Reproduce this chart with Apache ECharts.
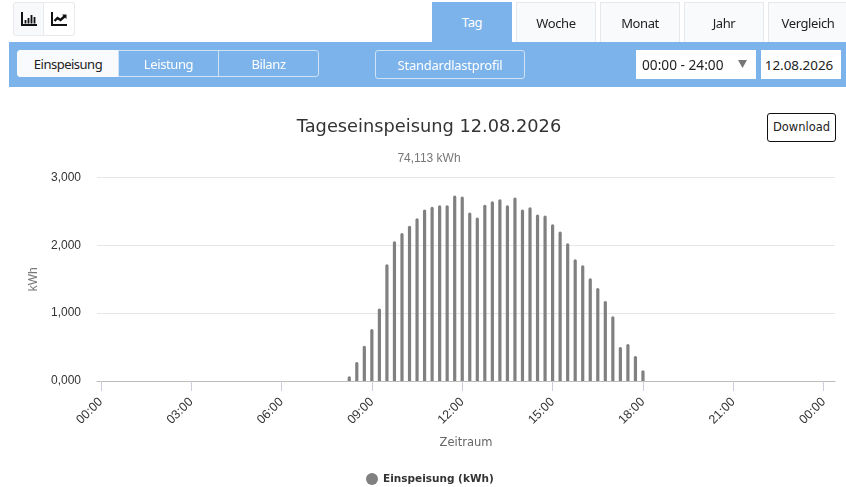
<!DOCTYPE html>
<html lang="de">
<head>
<meta charset="utf-8">
<title>Tageseinspeisung</title>
<script src="https://cdn.jsdelivr.net/npm/echarts@6/dist/echarts.min.js"></script>
<style>
html,body{margin:0;padding:0;width:846px;height:487px;overflow:hidden;background:#fff;font-family:"Noto Sans","Open Sans",sans-serif;color:#222}
#chart{position:absolute;left:0;top:0;width:846px;height:487px}
.ui{position:absolute;box-sizing:border-box;display:flex;align-items:center;justify-content:center;font-size:13px;letter-spacing:-.4px;z-index:2}
.tab{top:2px;width:80px;height:40px;background:#f9fafc;border:1px solid #e6e8ec;border-bottom:none}
.tab.on{background:#7cb3ea;color:#fff;border:none}
.seg{top:50px;height:27px;color:#fff;border:1px solid #cfe2f6}
</style>
</head>
<body>
<div id="chart"></div>

<div class="ui" style="left:13px;top:2px;width:31px;height:34px;background:#f8f9fb;border:1px solid #e8e9ec;border-radius:3px 0 0 3px">
<svg width="16" height="14" viewBox="0 0 16 14"><path d="M1 0V13H16" fill="none" stroke="#111" stroke-width="2"/><path d="M4.5 8v3.5M7.5 6v5.5M10.5 3v8.5M13.5 5v6.5" stroke="#111" stroke-width="1.8"/></svg></div>
<div class="ui" style="left:44px;top:2px;width:31px;height:34px;background:#fff;border:1px solid #e8e9ec;border-left:none;border-radius:0 3px 3px 0">
<svg width="16" height="14" viewBox="0 0 16 14"><path d="M1 0V13H16" fill="none" stroke="#111" stroke-width="2"/><path d="M3.5 9L6.5 6L9.5 8L14 4" fill="none" stroke="#111" stroke-width="2.4"/><path d="M11 2.5H15.5V7Z" fill="#111"/></svg></div>

<div class="ui" style="left:9px;top:42px;width:837px;height:45px;background:#7cb3ea;z-index:1"></div>
<div class="ui seg" style="left:17px;width:102px;background:#f8fafd;color:#222;border-radius:3px 0 0 3px;border-color:#f8fafd;letter-spacing:-.5px">Einspeisung</div>
<div class="ui seg" style="left:118px;width:101px">Leistung</div>
<div class="ui seg" style="left:218px;width:101px;border-radius:0 3px 3px 0">Bilanz</div>
<div class="ui seg" style="left:375px;width:150px;height:29px;border-radius:3px;letter-spacing:-.25px">Standardlastprofil</div>
<div class="ui" style="left:636px;top:50px;width:120px;height:29px;background:#fff;justify-content:flex-start;padding-left:6px;font-size:13.7px;letter-spacing:0">00:00 - 24:00
<svg style="position:absolute;left:102px;top:10px" width="9" height="8"><path d="M0 0H9L4.5 8Z" fill="#777"/></svg></div>
<div class="ui" style="left:761px;top:50px;width:80px;height:29px;padding-right:4px;background:#fff;font-size:13.4px;letter-spacing:0">12.08.2026</div>

<div class="ui tab on" style="left:432px">Tag</div>
<div class="ui tab" style="left:516px">Woche</div>
<div class="ui tab" style="left:600px">Monat</div>
<div class="ui tab" style="left:684px">Jahr</div>
<div class="ui tab" style="left:768px">Vergleich</div>

<div class="ui" style="left:767px;top:113px;width:69px;height:29px;padding-bottom:2px;border:1px solid #111;border-radius:3px;font-family:'DejaVu Sans',sans-serif;font-size:11.5px;letter-spacing:0;background:#fff">Download</div>

<script>
var categories = [
'00:00','00:15','00:30','00:45','01:00','01:15','01:30','01:45','02:00','02:15','02:30','02:45',
'03:00','03:15','03:30','03:45','04:00','04:15','04:30','04:45','05:00','05:15','05:30','05:45',
'06:00','06:15','06:30','06:45','07:00','07:15','07:30','07:45','08:00','08:15','08:30','08:45',
'09:00','09:15','09:30','09:45','10:00','10:15','10:30','10:45','11:00','11:15','11:30','11:45',
'12:00','12:15','12:30','12:45','13:00','13:15','13:30','13:45','14:00','14:15','14:30','14:45',
'15:00','15:15','15:30','15:45','16:00','16:15','16:30','16:45','17:00','17:15','17:30','17:45',
'18:00','18:15','18:30','18:45','19:00','19:15','19:30','19:45','20:00','20:15','20:30','20:45',
'21:00','21:15','21:30','21:45','22:00','22:15','22:30','22:45','23:00','23:15','23:30','23:45',
'00:00',''];
var einspeisung = [
null,null,null,null,null,null,null,null,null,null,null,null,
null,null,null,null,null,null,null,null,null,null,null,null,
null,null,null,null,null,null,null,null,null,0.07,0.28,0.52,
0.765,1.07,1.72,2.06,2.18,2.29,2.40,2.53,2.57,2.59,2.59,2.735,
2.72,2.485,2.41,2.60,2.65,2.68,2.59,2.705,2.53,2.56,2.455,2.44,
2.31,2.205,2.03,1.795,1.705,1.515,1.37,1.18,0.955,0.50,0.545,0.37,
0.16,null,null,null,null,null,null,null,null,null,null,null,
null,null,null,null,null,null,null,null,null,null,null,null,
null,null];
var titleText = 'Tageseinspeisung 12.08.2026';
var subtitleText = '74,113 kWh';
var seriesName = 'Einspeisung (kWh)';

var chart = echarts.init(document.getElementById('chart'), null, {renderer:'canvas'});
var body = 'Liberation Sans, Arial, sans-serif';
chart.setOption({
  animation:false,
  title:[
    {text:titleText,left:424,top:113,textAlign:'center',
     textStyle:{fontFamily:'DejaVu Sans',fontSize:17.8,fontWeight:'normal',color:'#333'}},
    {text:subtitleText,left:424,top:148,textAlign:'center',
     textStyle:{fontFamily:body,fontSize:12,fontWeight:'normal',color:'#777'}}
  ],
  legend:{
    data:[{name:seriesName,icon:'circle'}],
    left:361,top:468,itemWidth:12,itemHeight:12,itemGap:9,
    textStyle:{fontFamily:'DejaVu Sans',fontSize:10.5,fontWeight:'bold',color:'#333'}
  },
  grid:{left:97,right:11,top:177.5,bottom:106,containLabel:false},
  xAxis:{
    type:'category',data:categories,
    name:'Zeitraum',nameLocation:'middle',nameGap:56,
    nameTextStyle:{fontFamily:'DejaVu Sans',fontSize:11.5,color:'#666'},
    axisLine:{lineStyle:{color:'#bbb',width:1}},
    axisTick:{show:true,interval:11,alignWithLabel:true,length:10,lineStyle:{color:'#ccd'}},
    axisLabel:{interval:11,rotate:45,margin:19,fontFamily:body,fontSize:12.5,color:'#333'},
    splitLine:{show:false}
  },
  yAxis:{
    type:'value',min:0,max:3,interval:1,
    name:'kWh',nameLocation:'middle',nameGap:54,nameRotate:90,
    nameTextStyle:{fontFamily:body,fontSize:12,color:'#777'},
    axisLine:{show:false},axisTick:{show:false},
    axisLabel:{margin:16,fontFamily:body,fontSize:12,color:'#333',
      formatter:function(v){return v.toFixed(3).replace('.',',');}},
    splitLine:{lineStyle:{color:'#e6e6e6',width:1}}
  },
  series:[{
    name:seriesName,type:'bar',data:einspeisung,barWidth:3.2,
    itemStyle:{color:'#808080',borderRadius:[1.5,1.5,0,0]}
  }]
});
</script>
</body>
</html>
